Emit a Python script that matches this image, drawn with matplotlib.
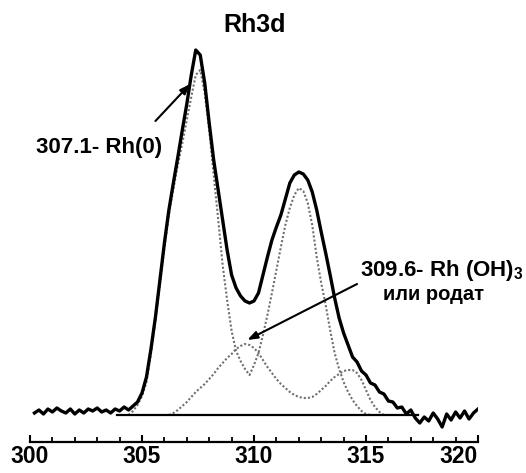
import matplotlib
matplotlib.use('Agg')
import matplotlib.pyplot as plt
from matplotlib.ticker import MultipleLocator
import numpy as np

plt.rcParams['font.family'] = ['Liberation Sans', 'DejaVu Sans']
plt.rcParams['font.weight'] = 'bold'
plt.rcParams['mathtext.fontset'] = 'custom'
plt.rcParams['mathtext.rm'] = 'Liberation Sans:bold'
plt.rcParams['mathtext.bf'] = 'Liberation Sans:bold'

# binding energy grid step (eV)
step = 0.2

# measured spectrum, 300.2 ... 320.0 eV
spec_start = 300.2
spectrum = [2, 5, 1, 6, 3, 7, 4, 2, 6, 1,
            5, 2, 6, 4, 7, 3, 5, 2, 6, 4,
            8, 5, 9, 13, 22, 38, 66, 98, 135, 172,
            205, 232, 258, 285, 311, 340, 365, 360, 332, 292,
            255, 225, 195, 165, 140, 127, 119, 114, 112, 114,
            122, 140, 158, 175, 188, 200, 216, 232, 240, 243,
            241, 235, 223, 205, 183, 162, 140, 117, 97, 82,
            70, 58, 53, 44, 40, 32, 30, 23, 21, 14,
            13, 7, 8, 1, 5, -3, -8, -2, -6, 2,
            -4, -12, 1, -5, 3, -3, 4, -4, 2, 6]

# Rh(0) doublet fit, 304.4 ... 315.2 eV
rh0_start = 304.4
rh0 = [0, 4, 10, 19, 33, 62, 95, 131, 167, 200,
       226, 250, 272, 295, 318, 340, 345, 322, 285, 240,
       196, 150, 115, 84, 64, 54, 46, 40, 50, 62,
       80, 100, 122, 145, 168, 190, 207, 220, 227, 224,
       212, 190, 158, 132, 110, 85, 62, 46, 33, 23,
       15, 9, 4, 1, 0]

# Rh(OH)3 / rhodate doublet fit, 306.2 ... 315.8 eV
rhoh_start = 306.2
rhoh = [0, 2, 5, 9, 13, 18, 23, 27, 31, 36,
        41, 47, 52, 57, 61, 66, 69, 71, 70, 67,
        62, 55, 48, 42, 36, 31, 27, 23, 20, 18,
        17, 17, 18, 21, 25, 29, 34, 38, 41, 44,
        45, 45, 42, 35, 25, 15, 8, 3, 0]

baseline_e = [303.9, 317.3]
baseline_h = [0, 0]

major_ticks = [300, 305, 310, 315, 320]

e_spec = spec_start + step * np.arange(len(spectrum))
e_rh0 = rh0_start + step * np.arange(len(rh0))
e_rhoh = rhoh_start + step * np.arange(len(rhoh))

fig = plt.figure(figsize=(5.26, 4.73), dpi=100)
ax = fig.add_axes([30 / 526, 31 / 473, 448 / 526, 402 / 473])

dot = dict(color='#707070', lw=1.5, linestyle=(0, (1, 1)))
ax.plot(e_rh0, rh0, **dot)
ax.plot(e_rhoh, rhoh, **dot)
ax.plot(baseline_e, baseline_h, color='black', lw=1.6)
ax.plot(e_spec, spectrum, color='black', lw=2.4, solid_joinstyle='round')

ax.set_xlim(300, 320)
ax.set_ylim(-27, 375)

for s in ['left', 'right', 'top']:
    ax.spines[s].set_visible(False)
ax.spines['bottom'].set_linewidth(1.6)
ax.set_yticks([])
ax.set_xticks(major_ticks)
ax.set_xticklabels([str(t) for t in major_ticks], fontsize=16.5, fontweight='bold')
ax.xaxis.set_minor_locator(MultipleLocator(1))
ax.tick_params(axis='x', which='major', direction='in', length=5, width=1.5, pad=2)
ax.tick_params(axis='x', which='minor', direction='in', length=3.5, width=1.3)
ax.get_xticklabels()[-1].set_ha('right')

fig.text(255 / 526, 1 - 32 / 473, 'Rh3d', ha='center', va='baseline',
         fontsize=18, fontweight='bold')

# peak labels
ax.text(303.1, 268, '307.1- Rh(0)', ha='center', va='center',
        fontsize=16, fontweight='bold')
ax.annotate('', xy=(307.15, 331), xytext=(305.6, 294),
            arrowprops=dict(arrowstyle='-|>,head_length=0.6,head_width=0.22',
                            color='black', lw=1.5, shrinkA=0, shrinkB=0))

ax.text(314.73, 139, r'309.6- Rh (OH)$_\mathbf{3}$', ha='left', va='baseline',
        fontsize=16, fontweight='bold')
ax.text(318.0, 115, 'или родат', ha='center', va='baseline',
        fontsize=14.5, fontweight='bold')
ax.annotate('', xy=(309.7, 75), xytext=(314.6, 131),
            arrowprops=dict(arrowstyle='-|>,head_length=0.6,head_width=0.22',
                            color='black', lw=1.5, shrinkA=0, shrinkB=0))

fig.savefig('out.png', dpi=100)
